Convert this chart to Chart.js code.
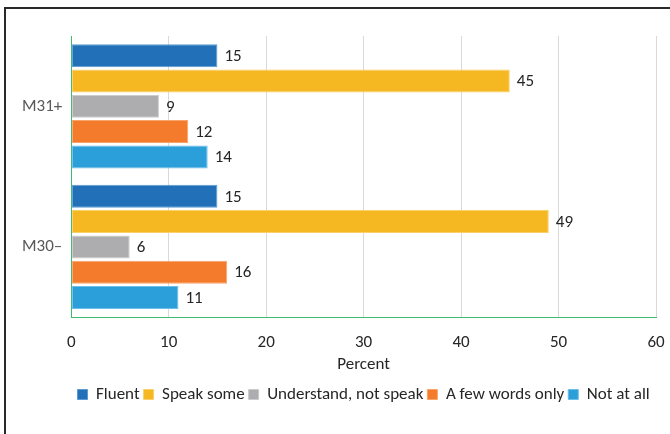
<!DOCTYPE html>
<html>
<head>
<meta charset="utf-8">
<script src="https://cdn.jsdelivr.net/npm/chart.js@4"></script>
<style>
    html, body { margin: 0; padding: 0; background: #fff; }
    .wrap { position: relative; width: 670px; height: 434px; overflow: hidden; }
    .frame {
        position: absolute; left: 4px; top: 7px; width: 700px; height: 500px;
        border-top: 2px solid #2a2a2a; border-left: 2px solid #2a2a2a;
    }
    canvas { position: absolute; left: 0; top: 0; }
</style>
</head>
<body>
<div class="wrap">
    <div class="frame"></div>
    <canvas id="chart" width="670" height="434"></canvas>
</div>
<script>
// Age groups and answer shares (percent)
const groups = ['M31+', 'M30–'];
const fluent = [15, 15];
const speakSome = [45, 49];
const understandOnly = [9, 6];
const fewWords = [12, 16];
const notAtAll = [14, 11];
const xTicks = [0, 10, 20, 30, 40, 50, 60];

const FONT = "Carlito, Lato, 'Open Sans', sans-serif";
const SIZE = 17;

// value labels at the end of each bar
const valueLabels = {
    id: 'valueLabels',
    afterDatasetsDraw(chart) {
        const ctx = chart.ctx;
        ctx.save();
        ctx.font = SIZE + 'px ' + FONT;
        ctx.fillStyle = '#262626';
        ctx.textAlign = 'left';
        ctx.textBaseline = 'middle';
        chart.data.datasets.forEach((ds, i) => {
            chart.getDatasetMeta(i).data.forEach((bar, j) => {
                ctx.fillText(ds.data[j], bar.x + 7, bar.y + 1);
            });
        });
        ctx.restore();
    }
};

function series(label, data, color, edge) {
    return {
        label: label,
        data: data,
        backgroundColor: color,
        borderColor: edge,
        borderWidth: 1,
        borderSkipped: false,
        barPercentage: 0.91,
        categoryPercentage: 0.9
    };
}

new Chart(document.getElementById('chart'), {
    type: 'bar',
    data: {
        labels: groups,
        datasets: [
            series('Fluent', fluent, '#2170b8', '#5b9bd3'),
            series('Speak some', speakSome, '#f5b823', '#f9d06a'),
            series('Understand, not speak', understandOnly, '#adadb0', '#cbcbcd'),
            series('A few words only', fewWords, '#f47b2c', '#f8a46b'),
            series('Not at all', notAtAll, '#2b9fda', '#6cbfe8')
        ]
    },
    options: {
        indexAxis: 'y',
        responsive: false,
        animation: false,
        layout: { padding: { top: 36, right: 4, bottom: 21, left: 13 } },
        plugins: {
            legend: {
                position: 'bottom',
                fullSize: false,
                labels: {
                    boxWidth: 10,
                    boxHeight: 10,
                    padding: 4,
                    color: '#262626',
                    font: { family: FONT, size: SIZE }
                }
            },
            tooltip: { enabled: false }
        },
        scales: {
            x: {
                min: 0,
                max: 60,
                afterBuildTicks: (axis) => { axis.ticks = xTicks.map(v => ({ value: v })); },
                // the "60" label only needs half its width past the plot edge
                afterFit: (axis) => { axis.paddingRight = 14; },
                grid: { color: '#d9d9d9', drawTicks: false },
                border: { color: '#3dbb73', width: 1 },
                ticks: { padding: 15, color: '#262626', font: { family: FONT, size: SIZE } },
                title: {
                    display: true,
                    text: 'Percent',
                    color: '#262626',
                    padding: { top: -13, bottom: 7 },
                    font: { family: FONT, size: SIZE }
                }
            },
            y: {
                grid: { display: false, drawTicks: false },
                border: { color: '#3dbb73', width: 1 },
                ticks: { padding: 9, color: '#595959', font: { family: FONT, size: SIZE } }
            }
        }
    },
    plugins: [valueLabels]
});
</script>
</body>
</html>
